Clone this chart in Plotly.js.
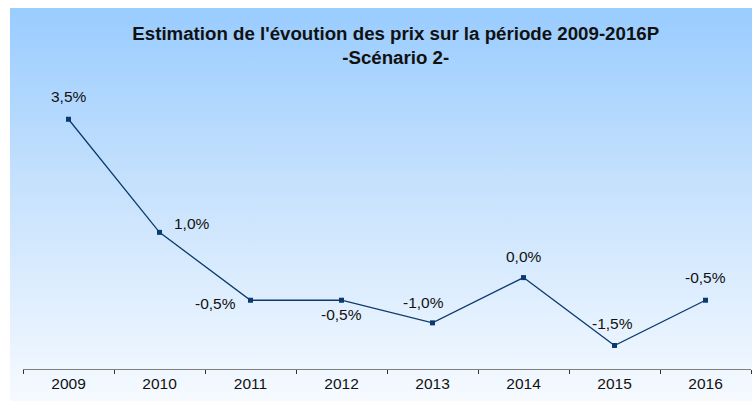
<!DOCTYPE html>
<html>
<head>
<meta charset="utf-8">
<script src="https://cdn.plot.ly/plotly-3.0.1.min.js"></script>
<style>
  html, body { margin: 0; padding: 0; background: #ffffff; }
  #bg { position: absolute; left: 10px; top: 8px; width: 742px; height: 393px;
        background: linear-gradient(to bottom, #99CCFF 0%, #C6E1FD 45%, #F6FAFF 100%); }
  #chart { position: absolute; left: 0; top: 0; width: 752px; height: 401px; }
</style>
</head>
<body>
<div id="bg"></div>
<div id="chart"></div>
<script>
const years = ['2009', '2010', '2011', '2012', '2013', '2014', '2015', '2016'];
const values = [3.5, 1.0, -0.5, -0.5, -1.0, 0.0, -1.5, -0.5];
const labels = ['3,5%', '1,0%', '-0,5%', '-0,5%', '-1,0%', '0,0%', '-1,5%', '-0,5%'];
// label offsets in pixels (dx, dy) relative to each point
const labelDx = [0, 32, -35, 0, -9, 0, -2, 0];
const labelDy = [-23, -9, 3, 14, -20, -21, -22, -23];

const FONT = 'Liberation Sans, Arial, sans-serif';

const trace = {
  x: years,
  y: values,
  type: 'scatter',
  mode: 'lines+markers',
  line: { color: '#0B3A6E', width: 1.3 },
  marker: { symbol: 'square', size: 5, color: '#0B3A6E' },
  hoverinfo: 'none'
};

const annotations = years.map((yr, i) => ({
  x: i, y: values[i], xref: 'x', yref: 'y',
  text: labels[i], showarrow: false,
  xanchor: 'center', yanchor: 'middle',
  xshift: labelDx[i], yshift: -labelDy[i],
  font: { family: FONT, size: 15.5, color: '#111111' }
}));

const layout = {
  width: 752, height: 401,
  margin: { l: 23, r: 1, t: 74, b: 32 },
  paper_bgcolor: 'rgba(0,0,0,0)',
  plot_bgcolor: 'rgba(0,0,0,0)',
  showlegend: false,
  title: {
    text: "<b>Estimation de l'évoution des prix sur la période 2009-2016P</b><br><b>-Scénario 2-</b>",
    font: { family: FONT, size: 18.7, color: '#111111' },
    x: 0.512, xanchor: 'center', y: 0.9, yanchor: 'top', xref: 'paper'
  },
  xaxis: {
    type: 'category',
    range: [-0.5, 7.5],
    showgrid: false, zeroline: false,
    showline: true, linecolor: '#808080', linewidth: 1,
    ticks: 'outside', ticklen: 4, tickcolor: '#333333', tickwidth: 1,
    tickson: 'boundaries',
    tickfont: { family: FONT, size: 15.5, color: '#111111' },
    fixedrange: true
  },
  yaxis: {
    range: [-2.02, 4.5],
    showticklabels: false, ticks: '', showline: false,
    showgrid: false, zeroline: false,
    fixedrange: true
  },
  annotations: annotations
};

Plotly.newPlot('chart', [trace], layout, { staticPlot: true, displayModeBar: false });
</script>
</body>
</html>
